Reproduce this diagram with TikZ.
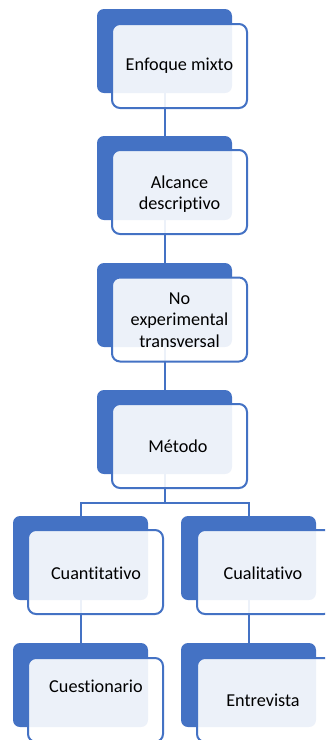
\documentclass[tikz,border=0pt]{standalone}
\usepackage{fontspec}
\setmainfont{Carlito}[Ligatures=NoCommon]
\usetikzlibrary{backgrounds}
\definecolor{accent}{HTML}{4472C4}
\tikzset{
  backbox/.style={draw=none, fill=accent, rounded corners=7pt,
    minimum width=135pt, minimum height=84pt, inner sep=0pt},
  frontbox/.style={draw=accent, line width=2pt, fill=white, fill opacity=0.9,
    rounded corners=8pt, minimum width=135pt, minimum height=84pt, inner sep=0pt},
  label/.style={text=black, align=center, inner sep=0pt,
    font=\fontsize{18.2}{21.5}\selectfont},
  link/.style={draw=accent, line width=2pt}
}
\begin{document}
\begin{tikzpicture}[x=1pt, y=-1pt]
\useasboundingbox (0,0) rectangle (325,740);
\clip (0,0) rectangle (325,740);

% back plates
\node[backbox] (b1) at (164.5,51) {};
\node[backbox] (b2) at (164.5,178) {};
\node[backbox] (b3) at (164.5,305) {};
\node[backbox] (b4) at (164.5,432) {};
\node[backbox] (b5) at (80.5,558) {};
\node[backbox] (b6) at (248.5,558) {};
\node[backbox] (b7) at (80.5,685) {};
\node[backbox] (b8) at (248.5,685) {};

% connectors, beneath the plates
\coordinate (fork) at (164.5,503);
\begin{scope}[on background layer]
  \draw[link] (b1.south) -- (b2.north);
  \draw[link] (b2.south) -- (b3.north);
  \draw[link] (b3.south) -- (b4.north);
  \draw[link] (b4.south) -- (fork);
  \draw[link] (fork) -| (b5.north);
  \draw[link] (fork) -| (b6.north);
  \draw[link] (b5.south) -- (b7.north);
  \draw[link] (b6.south) -- (b8.north);
\end{scope}

% translucent front cards
\node[frontbox] (f1) at (179.5,66) {};
\node[frontbox] (f2) at (179.5,192) {};
\node[frontbox] (f3) at (179.5,319.5) {};
\node[frontbox] (f4) at (179.5,446) {};
\node[frontbox] (f5) at (95.5,572) {};
\node[frontbox] (f6) at (264.5,572) {};
\node[frontbox] (f7) at (95.5,700) {};
\node[frontbox] (f8) at (264.5,700) {};

% texts
\node[label] (t1) at (179.5,66) {Enfoque mixto};
\node[label] (t2) at (179.5,194) {Alcance\\descriptivo};
\node[label] (t3) at (179.5,320) {No\\experimental\\transversal};
\node[label] (t4) at (178,446) {Método};
\node[label] (t5) at (96,573) {Cuantitativo};
\node[label] (t6) at (263,573) {Cualitativo};
\node[label] (t7) at (96,686) {Cuestionario};
\node[label] (t8) at (263,700) {Entrevista};
\end{tikzpicture}
\end{document}
